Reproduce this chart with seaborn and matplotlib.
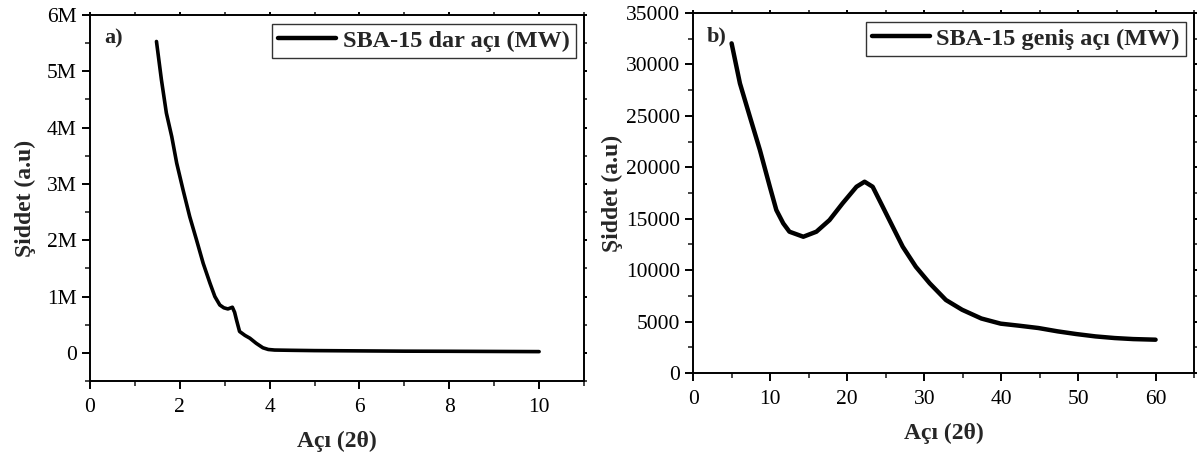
import matplotlib
matplotlib.use("Agg")
import matplotlib.pyplot as plt
import seaborn as sns
import pandas as pd
from matplotlib.ticker import MultipleLocator, FuncFormatter

# ---- data: panel a (small angle) ----
angle_a = [1.48, 1.59, 1.70, 1.82, 1.93, 2.07, 2.22, 2.37, 2.52, 2.67, 2.78, 2.89,
           2.98, 3.07, 3.17, 3.22, 3.26, 3.33, 3.45, 3.56, 3.70, 3.85, 3.97, 4.11,
           4.50, 5.00, 6.00, 7.00, 8.00, 9.00, 10.00]
intensity_a = [5.53e6, 4.85e6, 4.26e6, 3.84e6, 3.37e6, 2.90e6, 2.42e6, 2.01e6, 1.59e6,
               1.24e6, 1.00e6, 0.85e6, 0.80e6, 0.78e6, 0.81e6, 0.72e6, 0.59e6, 0.38e6,
               0.31e6, 0.26e6, 0.17e6, 0.09e6, 0.06e6, 0.05e6, 0.045e6, 0.04e6,
               0.035e6, 0.03e6, 0.028e6, 0.025e6, 0.022e6]

# ---- data: panel b (wide angle) ----
angle_b = [5.0, 6.08, 7.37, 8.67, 9.96, 10.8, 11.7, 12.5, 14.3, 16.0, 17.7, 19.4,
           21.2, 22.25, 23.3, 24.6, 25.9, 27.2, 28.9, 30.7, 32.8, 34.9, 37.4, 39.9,
           42.3, 44.8, 47.3, 49.7, 52.2, 54.7, 57.1, 60.0]
intensity_b = [32050, 28160, 24920, 21680, 18110, 15850, 14550, 13740, 13250, 13740,
               14870, 16500, 18110, 18600, 18110, 16170, 14220, 12280, 10330, 8720,
               7100, 6150, 5300, 4800, 4600, 4375, 4050, 3790, 3560, 3400, 3300, 3240]

label_a = "SBA-15 dar açı (MW)"
label_b = "SBA-15 geniş açı (MW)"
xlabel = "Açı (2θ)"
ylabel = "Şiddet (a.u)"

sns.set_theme(style="ticks")
plt.rcParams['font.family'] = ['Liberation Serif', 'DejaVu Serif']

fig = plt.figure(figsize=(11.97, 4.62), dpi=100)
ax1 = fig.add_axes([0.0752, 0.1753, 0.4127, 0.7922])
ax2 = fig.add_axes([0.579, 0.1926, 0.4186, 0.7792])

df_a = pd.DataFrame({"x": angle_a, "y": intensity_a})
df_b = pd.DataFrame({"x": angle_b, "y": intensity_b})

sns.lineplot(data=df_a, x="x", y="y", ax=ax1, color="black", lw=2.6,
             label=label_a, sort=False)
sns.lineplot(data=df_b, x="x", y="y", ax=ax2, color="black", lw=3.2,
             label=label_b, sort=False)

tick_fs = 15.5
lab_fs = 17
leg_fs = 17.5

for ax in (ax1, ax2):
    for sp in ax.spines.values():
        sp.set_linewidth(1.4)
        sp.set_color("black")
        sp.set_visible(True)
    ax.tick_params(which="major", direction="out", length=6, width=1.4,
                   labelsize=tick_fs, colors="black")
    ax.tick_params(which="minor", direction="out", length=3.5, width=1.2)
    ax.tick_params(axis="x", which="both", top=True)
    ax.tick_params(axis="x", which="major", pad=6)
    ax.tick_params(axis="y", which="both", right=True)
    ax.set_xlabel(xlabel, fontsize=lab_fs, fontweight="bold", labelpad=10)
    ax.set_ylabel(ylabel, fontsize=lab_fs, fontweight="bold")
    ax.set_facecolor("white")
    ax.grid(False)

# panel a
ax1.set_xlim(0, 11)
ax1.set_ylim(-0.5e6, 6e6)
ax1.xaxis.set_major_locator(MultipleLocator(2))
ax1.xaxis.set_minor_locator(MultipleLocator(1))
ax1.yaxis.set_major_locator(MultipleLocator(1e6))
ax1.yaxis.set_minor_locator(MultipleLocator(0.5e6))
ax1.yaxis.set_major_formatter(FuncFormatter(lambda v, p: "0" if abs(v) < 1 else f"{v/1e6:.0f}M"))
ax1.yaxis.labelpad = 8

# panel b
ax2.set_xlim(0, 65)
ax2.set_ylim(0, 35000)
ax2.xaxis.set_major_locator(MultipleLocator(10))
ax2.xaxis.set_minor_locator(MultipleLocator(5))
ax2.yaxis.set_major_locator(MultipleLocator(5000))
ax2.yaxis.set_minor_locator(MultipleLocator(2500))
ax2.yaxis.set_major_formatter(FuncFormatter(lambda v, p: f"{v:.0f}"))
ax2.yaxis.labelpad = 2

# top/right ticks very short
for ax in (ax1, ax2):
    for t in ax.xaxis.get_major_ticks() + ax.xaxis.get_minor_ticks():
        t.tick2line.set_markersize(2)
    for t in ax.yaxis.get_major_ticks() + ax.yaxis.get_minor_ticks():
        t.tick2line.set_markersize(2)

for ax, lab in ((ax1, "a)"), (ax2, "b)")):
    leg = ax.legend(loc="upper right", frameon=True, fancybox=False,
                    shadow=False, borderpad=0.25, handlelength=2.4, handletextpad=0.25,
                    borderaxespad=0.35, prop={"weight": "bold", "size": leg_fs})
    leg.get_frame().set_edgecolor("black")
    leg.get_frame().set_linewidth(1.0)
    for h in leg.get_lines():
        h.set_linewidth(3.2)
    ax.text(0.028, 0.935, lab, transform=ax.transAxes, fontsize=16, fontweight="bold",
            ha="left", va="center")

fig.savefig("out.png", dpi=100, facecolor="white")
